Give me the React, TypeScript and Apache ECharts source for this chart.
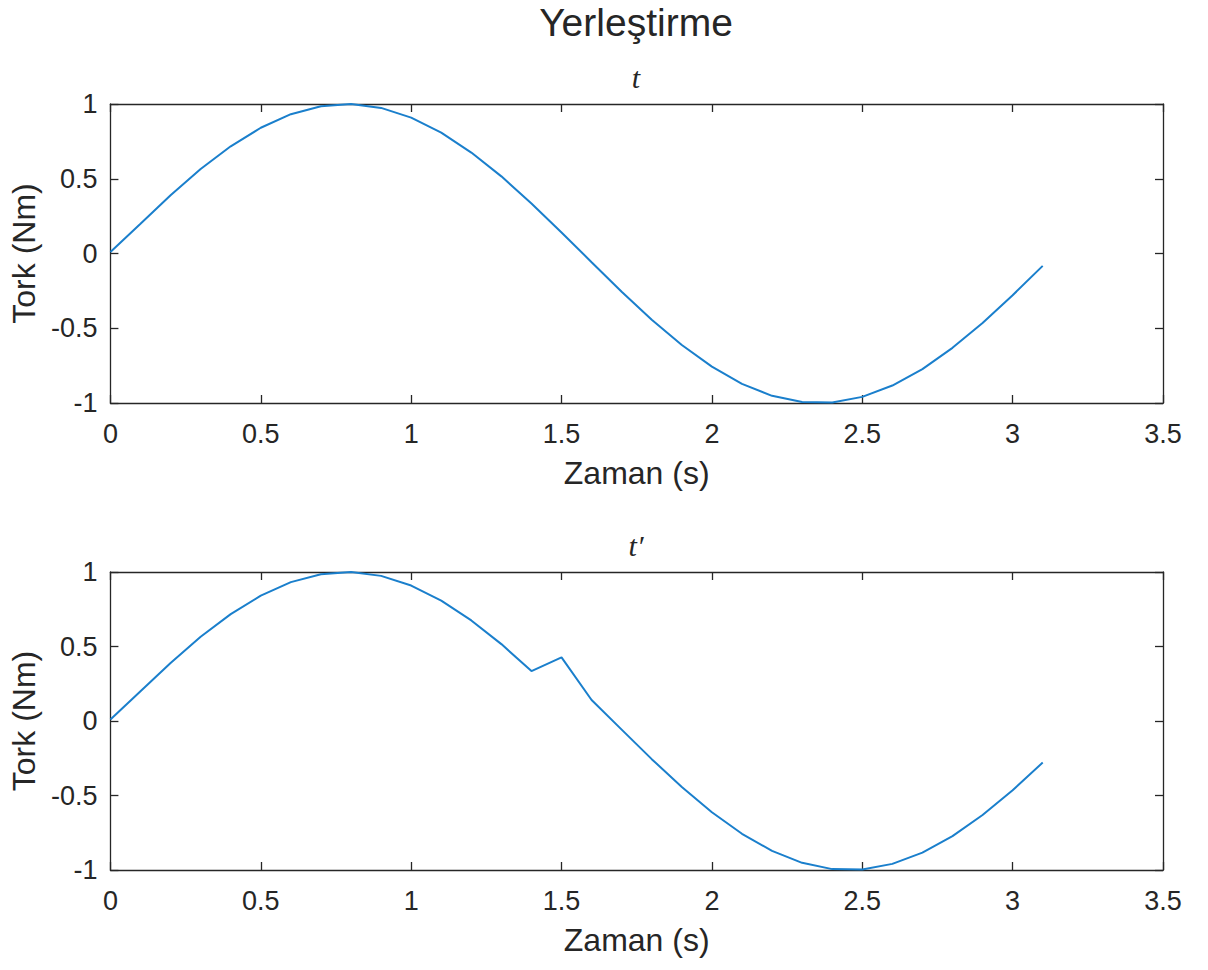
import React, { useEffect, useRef } from "react";
import * as echarts from "echarts";

const figureTitle = "Yerleştirme";
const subplotTitles = ["t", "t\u2032"];
const xAxisName = "Zaman (s)";
const yAxisName = "Tork (Nm)";

// x ticks: min, max, step ; y ticks: min, max, step
const xTickRange = [0, 3.5, 0.5];
const yTickRange = [-1, 1, 0.5];

const timeS = [
  0, 0.1, 0.2, 0.3, 0.4, 0.5, 0.6, 0.7, 0.8, 0.9, 1.0, 1.1, 1.2, 1.3, 1.4, 1.5,
  1.6, 1.7, 1.8, 1.9, 2.0, 2.1, 2.2, 2.3, 2.4, 2.5, 2.6, 2.7, 2.8, 2.9, 3.0, 3.1,
];

const torkT = [
  0.01, 0.199, 0.389, 0.565, 0.717, 0.841, 0.932, 0.985, 1.0, 0.974, 0.909, 0.808,
  0.675, 0.516, 0.335, 0.141, -0.058, -0.256, -0.443, -0.612, -0.757, -0.872,
  -0.952, -0.994, -0.996, -0.959, -0.883, -0.773, -0.631, -0.465, -0.279, -0.083,
];

const torkTPrime = [
  0.01, 0.199, 0.389, 0.565, 0.717, 0.841, 0.932, 0.985, 1.0, 0.974, 0.909, 0.808,
  0.675, 0.516, 0.335, 0.427, 0.141, -0.058, -0.256, -0.443, -0.612, -0.757,
  -0.872, -0.952, -0.994, -0.996, -0.959, -0.883, -0.773, -0.631, -0.465, -0.279,
];

const TEXT = "#262626";
const LINE = "#1a7fcc";
const SANS = "'Liberation Sans', Arial, Helvetica, sans-serif";
const SERIF = "'Liberation Serif', 'Times New Roman', serif";

export default function App() {
  const ref = useRef<HTMLDivElement>(null);

  useEffect(() => {
    if (!ref.current) return;
    const chart = echarts.init(ref.current, null, { renderer: "svg" });

    const grids = [
      { left: 110, top: 104, width: 1053, height: 299 },
      { left: 110, top: 572, width: 1053, height: 298 },
    ];

    const axisLine = { show: true, onZero: false, lineStyle: { color: TEXT, width: 1.3 } };
    const tick = { show: true, inside: true, length: 8, lineStyle: { color: TEXT, width: 1.3 } };

    const xAxes: any[] = [];
    const yAxes: any[] = [];
    grids.forEach((_, i) => {
      const base = {
        gridIndex: i,
        type: "value",
        min: xTickRange[0],
        max: xTickRange[1],
        interval: xTickRange[2],
        axisLine,
        axisTick: tick,
        splitLine: { show: false },
      };
      xAxes.push({
        ...base,
        position: "bottom",
        name: xAxisName,
        nameLocation: "middle",
        nameGap: 54,
        nameTextStyle: { color: TEXT, fontSize: 32, fontFamily: SANS },
        axisLabel: { color: TEXT, fontSize: 27, fontFamily: SANS, margin: 17 },
      });
      xAxes.push({ ...base, position: "top", axisLabel: { show: false } });
      const ybase = {
        gridIndex: i,
        type: "value",
        min: yTickRange[0],
        max: yTickRange[1],
        interval: yTickRange[2],
        axisLine,
        axisTick: tick,
        splitLine: { show: false },
      };
      yAxes.push({
        ...ybase,
        position: "left",
        name: yAxisName,
        nameLocation: "middle",
        nameGap: 62,
        nameTextStyle: { color: TEXT, fontSize: 32, fontFamily: SANS },
        axisLabel: { color: TEXT, fontSize: 27, fontFamily: SANS, margin: 13 },
      });
      yAxes.push({ ...ybase, position: "right", axisLabel: { show: false } });
    });

    const seriesData = [torkT, torkTPrime];

    chart.setOption({
      animation: false,
      backgroundColor: "#ffffff",
      grid: grids,
      xAxis: xAxes,
      yAxis: yAxes,
      graphic: [
        {
          type: "text",
          x: 636,
          y: 22,
          style: {
            text: figureTitle,
            fill: TEXT,
            font: `39px ${SANS}`,
            textAlign: "center",
            textVerticalAlign: "middle",
          },
        },
        {
          type: "text",
          x: 636,
          y: 77,
          style: {
            text: subplotTitles[0],
            fill: TEXT,
            font: `italic 30px ${SERIF}`,
            textAlign: "center",
            textVerticalAlign: "middle",
          },
        },
        {
          type: "text",
          x: 636,
          y: 545,
          style: {
            text: subplotTitles[1],
            fill: TEXT,
            font: `italic 30px ${SERIF}`,
            textAlign: "center",
            textVerticalAlign: "middle",
          },
        },
      ],
      series: seriesData.map((vals, i) => ({
        type: "line",
        xAxisIndex: i * 2,
        yAxisIndex: i * 2,
        data: timeS.map((t, k) => [t, vals[k]]),
        showSymbol: false,
        symbol: "none",
        lineStyle: { color: LINE, width: 2 },
        itemStyle: { color: LINE },
      })),
    });

    return () => chart.dispose();
  }, []);

  return (
    <div
      ref={ref}
      style={{ position: "absolute", left: 0, top: 0, width: 1208, height: 970 }}
    />
  );
}
